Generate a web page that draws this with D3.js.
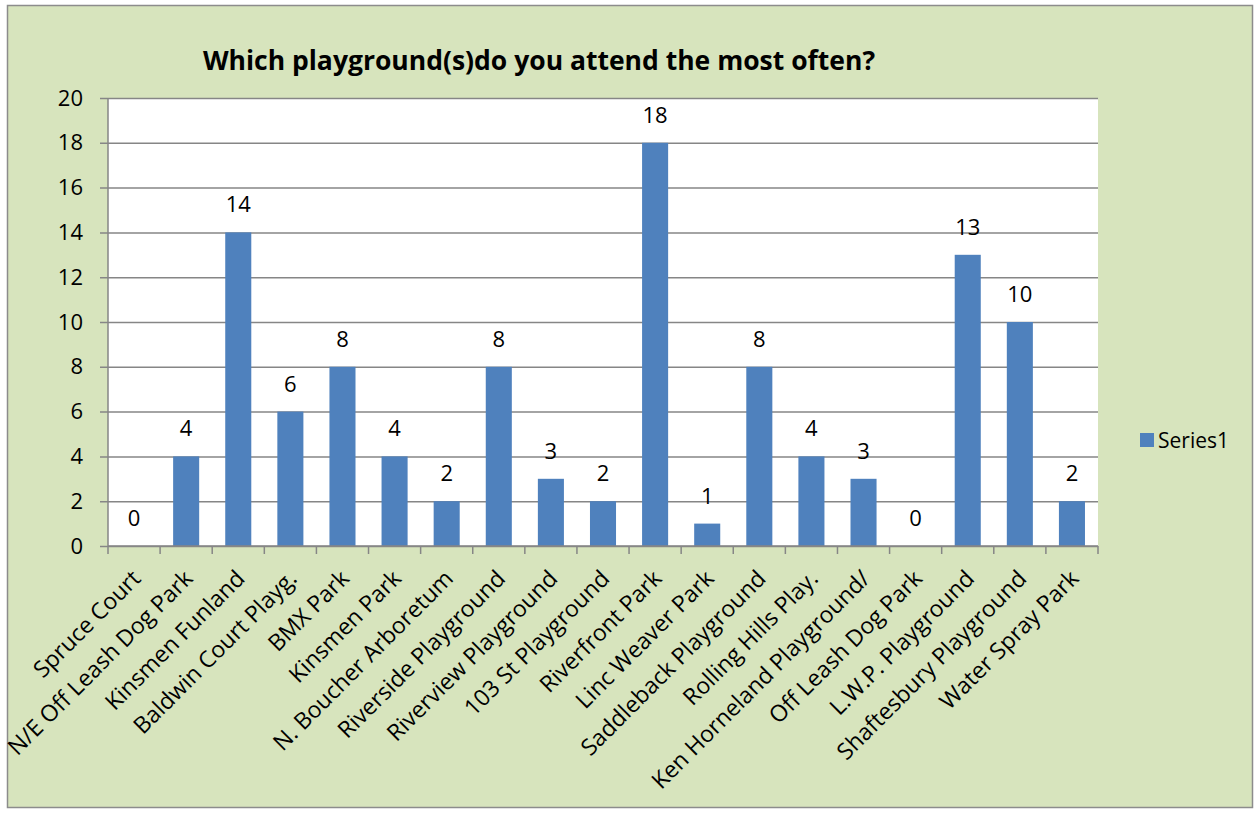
<!DOCTYPE html>
<html>
<head>
<meta charset="utf-8">
<script src="https://cdn.jsdelivr.net/npm/d3@7"></script>
<style>
  body { margin: 0; background: #fff; }
  svg text { font-family: "Open Sans", sans-serif; fill: #000; }
</style>
</head>
<body>
<div id="chart"></div>
<script>
// Playground attendance – single series column chart

const categories = [
  'Spruce Court', 'N/E Off Leash Dog Park', 'Kinsmen Funland', 'Baldwin Court Playg.',
  'BMX Park', 'Kinsmen Park', 'N. Boucher Arboretum', 'Riverside Playground',
  'Riverview Playground', '103 St Playground', 'Riverfront Park', 'Linc Weaver Park',
  'Saddleback Playground', 'Rolling Hills Play.', 'Ken Horneland Playground/',
  'Off Leash Dog Park', 'L.W.P. Playground', 'Shaftesbury Playground', 'Water Spray Park'
];
const series1 = [0, 4, 14, 6, 8, 4, 2, 8, 3, 2, 18, 1, 8, 4, 3, 0, 13, 10, 2];
const yTicks = [0, 2, 4, 6, 8, 10, 12, 14, 16, 18, 20];
const seriesName = 'Series1';
const title = 'Which playground(s)do you attend the most often?';

const W = 1255, H = 814;
const plot = { left: 108, right: 1098, top: 98, bottom: 546 };
const BAR = '#4F81BD';
const GRID = '#868686';
const FS = 22;

const svg = d3.select('#chart').append('svg').attr('width', W).attr('height', H);

// chart area background + border
svg.append('rect')
  .attr('x', 7.5).attr('y', 5.5).attr('width', W - 10).attr('height', H - 12)
  .attr('fill', '#D7E4BD').attr('stroke', '#8C8C8C').attr('stroke-width', 1.5);

svg.append('rect')
  .attr('x', plot.left).attr('y', plot.top)
  .attr('width', plot.right - plot.left).attr('height', plot.bottom - plot.top)
  .attr('fill', '#fff');

const x = d3.scaleBand().domain(categories).range([plot.left, plot.right]).paddingInner(0.5).paddingOuter(0.25);
const y = d3.scaleLinear().domain([0, 20]).range([plot.bottom, plot.top]);

// gridlines + y axis
const yAxis = d3.axisLeft(y).tickValues(yTicks).tickSize(plot.right - plot.left + 8).tickPadding(17).tickFormat(d3.format('d'));
const gy = svg.append('g').attr('transform', 'translate(' + plot.right + ',0)').call(yAxis);
gy.select('.domain').remove();
gy.selectAll('line').attr('stroke', GRID).attr('stroke-width', 1.5);
gy.selectAll('text').attr('font-size', FS).attr('font-family', '"Open Sans", sans-serif');

svg.append('line')
  .attr('x1', plot.left).attr('x2', plot.left).attr('y1', plot.top).attr('y2', plot.bottom)
  .attr('stroke', GRID).attr('stroke-width', 1.5);

// bars
svg.selectAll('.bar').data(series1).enter().append('rect')
  .attr('class', 'bar')
  .attr('x', (d, i) => x(categories[i]))
  .attr('y', (d) => y(d))
  .attr('width', x.bandwidth())
  .attr('height', (d) => y(0) - y(d))
  .attr('fill', BAR);

// value labels
svg.selectAll('.val').data(series1).enter().append('text')
  .attr('class', 'val')
  .attr('x', (d, i) => x(categories[i]) + x.bandwidth() / 2)
  .attr('y', (d) => y(d) - 20)
  .attr('text-anchor', 'middle')
  .attr('font-size', FS)
  .text((d) => d);

// x axis with boundary ticks
const step = x.step();
const bounds = d3.range(categories.length + 1).map((i) => plot.left + i * step);
const gx = svg.append('g');
gx.append('line')
  .attr('x1', plot.left).attr('x2', plot.right).attr('y1', plot.bottom).attr('y2', plot.bottom)
  .attr('stroke', GRID).attr('stroke-width', 1.5);
gx.selectAll('.xt').data(bounds).enter().append('line')
  .attr('x1', (d) => d).attr('x2', (d) => d)
  .attr('y1', plot.bottom).attr('y2', plot.bottom + 8)
  .attr('stroke', GRID).attr('stroke-width', 1.5);

gx.selectAll('.xl').data(categories).enter().append('text')
  .attr('font-size', 23)
  .attr('text-anchor', 'end')
  .attr('transform', (d) => 'translate(' + (x(d) + x.bandwidth() / 2 + 8) + ',' + (plot.bottom + 34) + ') rotate(-45)')
  .text((d) => d);

// title
svg.append('text')
  .attr('x', 539).attr('y', 70)
  .attr('text-anchor', 'middle')
  .attr('font-size', 26.5).attr('font-weight', 'bold')
  .text(title);

// legend
svg.append('rect').attr('x', 1140).attr('y', 433).attr('width', 14).attr('height', 14).attr('fill', BAR);
svg.append('text').attr('x', 1158).attr('y', 448).attr('font-size', 21).text(seriesName);
</script>
</body>
</html>
